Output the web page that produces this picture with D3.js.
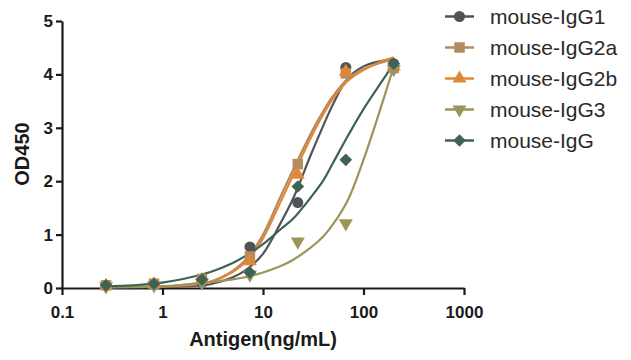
<!DOCTYPE html>
<html><head><meta charset="utf-8">
<script src="https://cdn.jsdelivr.net/npm/d3@7"></script>
<style>body{margin:0;background:#fff}svg{display:block}</style>
</head><body><svg id="c" width="631" height="360"></svg>
<script>
// Data
const seriesNames = ["mouse-IgG1","mouse-IgG2a","mouse-IgG2b","mouse-IgG3","mouse-IgG"];
const concentrations = [0.274, 0.823, 2.47, 7.41, 22.2, 66.7, 200];
const igg1Points  = [0.05, 0.08, 0.10, 0.77, 1.60, 4.13, 4.20];
const igg2aPoints = [0.05, 0.08, 0.17, 0.59, 2.32, 4.02, 4.12];
const igg2bPoints = [0.04, 0.07, 0.15, 0.50, 2.12, 4.05, 4.15];
const igg3Points  = [0.03, 0.05, 0.10, 0.25, 0.87, 1.21, 4.10];
const iggPoints   = [0.05, 0.08, 0.16, 0.29, 1.90, 2.40, 4.20];

// fitted curves
const curveX = [0.27, 0.5, 1, 2, 3, 5, 7, 10, 15, 20, 30, 40, 50, 70, 100, 150, 200];
const igg1Curve  = [0.01,0.01,0.02,0.04,0.07,0.20,0.36,0.64,1.22,1.68,2.50,3.05,3.45,3.93,4.15,4.25,4.28];
const igg2aCurve = [0.02,0.02,0.03,0.07,0.12,0.32,0.56,1.00,1.72,2.22,2.90,3.32,3.60,3.92,4.10,4.22,4.28];
const igg2bCurve = [0.02,0.02,0.03,0.06,0.11,0.30,0.52,0.93,1.62,2.12,2.82,3.26,3.55,3.88,4.08,4.24,4.32];
const igg3Curve  = [0.01,0.02,0.03,0.08,0.11,0.16,0.21,0.29,0.41,0.53,0.76,0.97,1.20,1.65,2.40,3.40,4.15];
const iggCurve   = [0.03,0.05,0.10,0.21,0.30,0.47,0.62,0.82,1.10,1.30,1.70,2.02,2.35,2.85,3.35,3.85,4.20];

const xTicks = [0.1, 1, 10, 100, 1000];
const yTicks = [0, 1, 2, 3, 4, 5];

const colors = ["#505458", "#b38b5d", "#e0883a", "#9c9459", "#3e6356"];
const symbols = ["circle", "square", "triangle", "triangleDown", "diamond"];
const pointSets = [igg1Points, igg2aPoints, igg2bPoints, igg3Points, iggPoints];
const curveSets = [igg1Curve, igg2aCurve, igg2bCurve, igg3Curve, iggCurve];

const svg = d3.select("#c");
const x = d3.scaleLog().domain([0.1, 1000]).range([62, 464]);
const y = d3.scaleLinear().domain([0, 5]).range([288, 21]);

function marker(g, type, color, cx, cy) {
  let s;
  if (type === "circle") return g.append("circle").attr("cx", cx).attr("cy", cy).attr("r", 5.5).attr("fill", color);
  if (type === "square") s = d3.symbol(d3.symbolSquare, 110);
  if (type === "triangle") s = d3.symbol(d3.symbolTriangle, 85);
  if (type === "diamond") s = d3.symbol(d3.symbolSquare, 80);
  if (type === "triangleDown") {
    return g.append("path").attr("d", d3.symbol(d3.symbolTriangle, 85)())
      .attr("transform", `translate(${cx},${cy}) rotate(180)`).attr("fill", color);
  }
  const p = g.append("path").attr("d", s()).attr("fill", color);
  p.attr("transform", type === "diamond" ? `translate(${cx},${cy}) rotate(45)` : `translate(${cx},${cy})`);
  return p;
}

// axes
const xAxis = svg.append("g").attr("transform", "translate(0,288)")
  .call(d3.axisBottom(x).tickValues(xTicks).tickFormat(d => String(d)).tickSize(7).tickSizeOuter(0));
const yAxis = svg.append("g").attr("transform", "translate(62,0)")
  .call(d3.axisLeft(y).tickValues(yTicks).tickFormat(d3.format("d")).tickSize(6).tickSizeOuter(0));
[xAxis, yAxis].forEach(a => {
  a.select(".domain").attr("stroke", "#1a1a1a").attr("stroke-width", 2.2);
  a.selectAll(".tick line").attr("stroke", "#1a1a1a").attr("stroke-width", 2.2);
  a.selectAll(".tick text").attr("fill", "#1a1a1a").attr("font-family", "Liberation Sans, Arial, sans-serif")
    .attr("font-weight", "bold").attr("font-size", 17);
});
xAxis.selectAll(".tick text").attr("dy", "1.15em");
yAxis.selectAll(".tick text").attr("x", -9);

svg.append("text").attr("x", 263).attr("y", 346).attr("text-anchor", "middle")
  .attr("font-family", "Liberation Sans, Arial, sans-serif").attr("font-weight", "bold").attr("font-size", 20)
  .attr("fill", "#1a1a1a").text("Antigen(ng/mL)");
svg.append("text").attr("transform", "translate(29,154) rotate(-90)").attr("text-anchor", "middle")
  .attr("font-family", "Liberation Sans, Arial, sans-serif").attr("font-weight", "bold").attr("font-size", 20)
  .attr("fill", "#1a1a1a").text("OD450");

// curves
const line = d3.line().x(d => x(d[0])).y(d => y(d[1])).curve(d3.curveCatmullRom.alpha(0.5));
const plot = svg.append("g");
curveSets.forEach((c, i) => {
  plot.append("path").datum(curveX.map((cx, j) => [cx, c[j]]))
    .attr("d", line).attr("fill", "none").attr("stroke", colors[i]).attr("stroke-width", 2.2);
});
// points
pointSets.forEach((ps, i) => {
  ps.forEach((v, j) => marker(plot, symbols[i], colors[i], x(concentrations[j]), y(v)));
});

// legend
const leg = svg.append("g");
seriesNames.forEach((n, i) => {
  const ly = 16.5 + i * 31;
  leg.append("line").attr("x1", 445).attr("x2", 474).attr("y1", ly).attr("y2", ly)
    .attr("stroke", colors[i]).attr("stroke-width", 2.5);
  marker(leg, symbols[i], colors[i], 459.5, ly);
  leg.append("text").attr("x", 490).attr("y", ly).attr("dy", "0.36em")
    .attr("font-family", "Liberation Sans, Arial, sans-serif").attr("font-size", 21)
    .attr("fill", "#2a2a2a").text(n);
});
</script></body></html>
